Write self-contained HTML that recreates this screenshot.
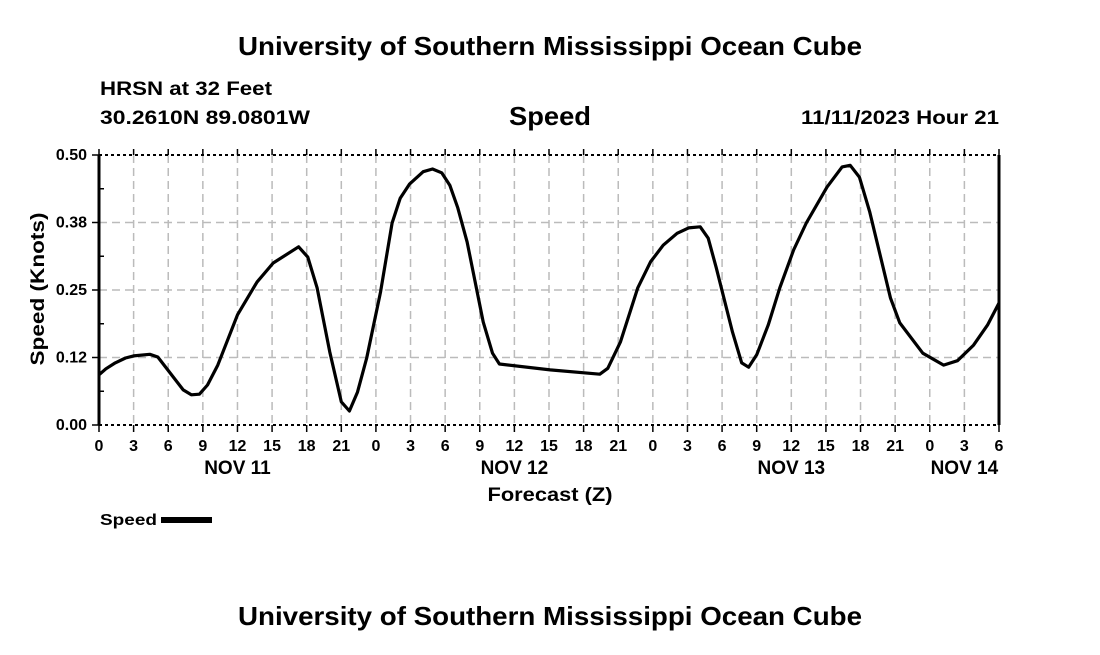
<!DOCTYPE html>
<html><head><meta charset="utf-8"><style>
body{margin:0;background:#fff;}
svg text{font-family:"Liberation Sans",Arial,sans-serif;font-weight:bold;fill:#000;}
</style></head><body>
<svg id="chart" width="1100" height="650" xmlns="http://www.w3.org/2000/svg">
<text x="550" y="55" font-size="26" text-anchor="middle" textLength="624" lengthAdjust="spacingAndGlyphs">University of Southern Mississippi Ocean Cube</text>
<text x="100" y="95" font-size="19" textLength="172" lengthAdjust="spacingAndGlyphs">HRSN at 32 Feet</text>
<text x="100" y="124" font-size="19" textLength="210" lengthAdjust="spacingAndGlyphs">30.2610N  89.0801W</text>
<text x="550" y="125" font-size="26" text-anchor="middle" textLength="82" lengthAdjust="spacingAndGlyphs">Speed</text>
<text x="999" y="124" font-size="19" text-anchor="end" textLength="198" lengthAdjust="spacingAndGlyphs">11/11/2023 Hour 21</text>
<g id="grid"></g><g id="axes"></g>
<path id="line" fill="none" stroke="#000" stroke-width="3.2" stroke-linejoin="round"/>
<text transform="translate(44,289) rotate(-90)" font-size="19" text-anchor="middle" textLength="153" lengthAdjust="spacingAndGlyphs">Speed (Knots)</text>
<text x="550" y="501" font-size="19" text-anchor="middle" textLength="125" lengthAdjust="spacingAndGlyphs">Forecast (Z)</text>
<g><text x="100" y="525" font-size="16" textLength="57" lengthAdjust="spacingAndGlyphs">Speed</text><rect x="161" y="517" width="51" height="6" fill="#000"/></g>
<text x="550" y="625" font-size="26" text-anchor="middle" textLength="624" lengthAdjust="spacingAndGlyphs">University of Southern Mississippi Ocean Cube</text>
</svg>
<script>
const hours=[0,0.6,1.4,2.3,3,4.4,5.1,7.3,8,8.7,9.4,10.3,12,13.7,15.1,17.3,18.1,18.9,20,21,21.7,22.4,23.2,24.4,25.4,26.1,26.9,28.1,28.9,29.7,30.4,31.1,31.9,33.3,34.1,34.7,39.1,43.4,44.1,45.2,46.7,47.8,48.9,50.1,51.1,52.1,52.8,53.5,54.9,55.7,56.3,57,58,59,60.2,61.3,63.1,64.4,65.1,65.9,66.8,68.6,69.4,71.4,73.2,74.4,75.8,77,78];
const speeds=[0.093,0.104,0.115,0.124,0.128,0.131,0.126,0.065,0.056,0.057,0.074,0.111,0.204,0.265,0.300,0.330,0.311,0.254,0.135,0.043,0.026,0.061,0.124,0.246,0.374,0.420,0.446,0.469,0.474,0.467,0.444,0.402,0.339,0.191,0.133,0.113,0.102,0.094,0.105,0.154,0.254,0.302,0.333,0.355,0.365,0.367,0.346,0.291,0.172,0.115,0.107,0.130,0.185,0.254,0.324,0.374,0.441,0.478,0.481,0.459,0.394,0.235,0.189,0.133,0.111,0.119,0.148,0.185,0.226];
const yTicks=[0,0.125,0.25,0.375,0.5];
const yTickLabels=["0.00","0.12","0.25","0.38","0.50"];
const xTickLabels=["0","3","6","9","12","15","18","21","0","3","6","9","12","15","18","21","0","3","6","9","12","15","18","21","0","3","6"];
const dayLabels=["NOV 11","NOV 12","NOV 13","NOV 14"];
const dayHours=[12,36,60,75];
const X0=99,X1=999,Y0=425,Y1=155,HMAX=78,VMAX=0.5;
const xs=h=>X0+(X1-X0)*h/HMAX, ys=v=>Y0-(Y0-Y1)*v/VMAX;
const NS="http://www.w3.org/2000/svg";
function mk(tag,attrs,parent,txt){const e=document.createElementNS(NS,tag);for(const k in attrs)e.setAttribute(k,attrs[k]);if(txt!==undefined)e.textContent=txt;parent.appendChild(e);return e;}
const grid=document.getElementById('grid'),axes=document.getElementById('axes');
xTickLabels.forEach((l,i)=>{const x=xs(i*3);
 if(i>0&&i<xTickLabels.length-1){const g=mk('line',{x1:x,x2:x,y1:Y1,y2:Y0,stroke:'#bbb','stroke-width':1.5,'stroke-dasharray':'8,5'},grid);
 
 }
 mk('line',{x1:x,x2:x,y1:Y0,y2:Y0+7,stroke:'#000','stroke-width':1.5},axes);
 mk('line',{x1:x,x2:x,y1:Y1-6,y2:Y1,stroke:'#000','stroke-width':1.5},axes);
 const t=mk('text',{x:x,y:451,'font-size':16,'text-anchor':'middle'},axes,l);
 
 
});
dayLabels.forEach((l,i)=>{const t=mk('text',{x:xs(dayHours[i]),y:474,'font-size':19,'text-anchor':'middle'},axes,l);
 
 });
yTicks.forEach((v,i)=>{const y=ys(v);
 if(i>0&&i<yTicks.length-1){const g=mk('line',{x1:X0,x2:X1,y1:y,y2:y,stroke:'#bbb','stroke-width':1.5,'stroke-dasharray':'8,5'},grid);
 
 }
 mk('line',{x1:X0-7,x2:X0,y1:y,y2:y,stroke:'#000','stroke-width':1.5},axes);
 if(i<yTicks.length-1)mk('line',{x1:X0,x2:X0+5,y1:ys(v+0.0625),y2:ys(v+0.0625),stroke:'#000','stroke-width':1.5},axes);
 const t=mk('text',{x:87,y:y+5,'font-size':16,'text-anchor':'end'},axes,yTickLabels[i]);
 
 
});
mk('line',{x1:X0,x2:X0,y1:Y1,y2:Y0,stroke:'#000','stroke-width':3},axes);
mk('line',{x1:X1,x2:X1,y1:Y1,y2:Y0,stroke:'#000','stroke-width':3},axes);
mk('line',{x1:X0,x2:X1,y1:Y1,y2:Y1,stroke:'#000','stroke-width':2,'stroke-dasharray':'3,3'},axes);
mk('line',{x1:X0,x2:X1,y1:Y0,y2:Y0,stroke:'#000','stroke-width':2,'stroke-dasharray':'3,3'},axes);
document.getElementById('line').setAttribute('d',hours.map((h,i)=>(i?'L':'M')+xs(h).toFixed(1)+','+ys(speeds[i]).toFixed(1)).join(''));
</script>
</body></html>
